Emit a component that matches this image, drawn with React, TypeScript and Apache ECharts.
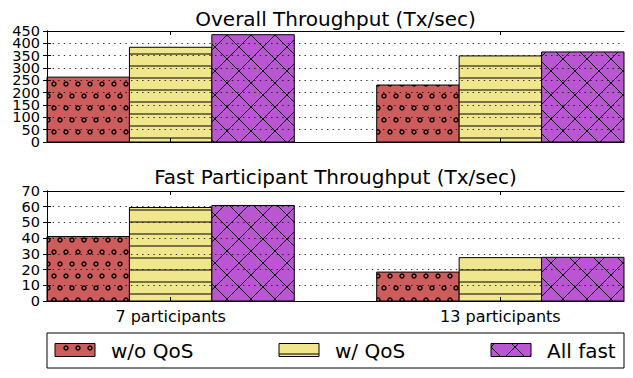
import React, { useEffect, useRef } from 'react';
import * as echarts from 'echarts';

// ---------- data ----------
const categories = ['7 participants', '13 participants'];
const seriesNames = ['w/o QoS', 'w/ QoS', 'All fast'];

const overallWithoutQos = [263, 231];
const overallWithQos = [384, 349];
const overallAllFast = [435, 365];

const fastWithoutQos = [41, 18.4];
const fastWithQos = [59.5, 27.6];
const fastAllFast = [60.8, 27.8];

const overallTicks = [0, 50, 100, 150, 200, 250, 300, 350, 400, 450];
const fastTicks = [0, 10, 20, 30, 40, 50, 60, 70];

const chartTitles = ['Overall Throughput (Tx/sec)', 'Fast Participant Throughput (Tx/sec)'];

// ---------- style ----------
const FONT = '"DejaVu Sans", "Liberation Sans", sans-serif';
const barColors = ['#cd5c5c', '#f0e68c', '#ba55d3'];
const hatchKinds = ['circles', 'hlines', 'cross'];
const HATCH = 12;

type Box = { x0: number; y0: number; x1: number; y1: number };

function mod(a: number, n: number) {
  return ((a % n) + n) % n;
}

function hatchElements(kind: string, b: Box, onlyFull: boolean): any[] {
  const els: any[] = [];
  const line = (x1: number, y1: number, x2: number, y2: number) => ({
    type: 'line',
    silent: true,
    shape: { x1, y1, x2, y2 },
    style: { stroke: '#000', lineWidth: 1, fill: null },
  });
  if (kind === 'circles') {
    const r = 2;
    for (let k = Math.floor((b.y0 - r) / HATCH); k * HATCH <= b.y1 + r; k++) {
      const cy = k * HATCH;
      const off = mod(k, 2) === 1 ? HATCH / 2 : 0;
      for (let m = Math.floor((b.x0 - r - off) / HATCH); m * HATCH + off <= b.x1 + r; m++) {
        const cx = m * HATCH + off;
        const full = cx - r >= b.x0 && cx + r <= b.x1 && cy - r >= b.y0 && cy + r <= b.y1;
        const part = cx + r > b.x0 && cx - r < b.x1 && cy + r > b.y0 && cy - r < b.y1;
        if (onlyFull ? full : part) {
          els.push({
            type: 'circle',
            silent: true,
            shape: { cx, cy, r },
            style: { fill: 'none', stroke: '#000', lineWidth: 1.4 },
          });
        }
      }
    }
  } else if (kind === 'hlines') {
    for (let k = Math.ceil((b.y0 - 6) / HATCH); k * HATCH + 6 < b.y1; k++) {
      const y = k * HATCH + 6;
      if (y > b.y0 + 0.6 && y < b.y1 - 0.6) els.push(line(b.x0, y, b.x1, y));
    }
  } else if (kind === 'cross') {
    const P = 2 * HATCH;
    // family A: x - y = c, c = P*m
    for (let c = Math.ceil((b.x0 - b.y1) / P) * P; c <= b.x1 - b.y0; c += P) {
      const ya = Math.max(b.y0, b.x0 - c);
      const yb = Math.min(b.y1, b.x1 - c);
      if (yb - ya > 0.3) els.push(line(ya + c, ya, yb + c, yb));
    }
    // family B: x + y = c, c = P*m + 22
    const shift = 22;
    for (let c = Math.ceil((b.x0 + b.y0 - shift) / P) * P + shift; c <= b.x1 + b.y1; c += P) {
      const ya = Math.max(b.y0, c - b.x1);
      const yb = Math.min(b.y1, c - b.x0);
      if (yb - ya > 0.3) els.push(line(c - ya, ya, c - yb, yb));
    }
  }
  return els;
}

const groupSlots = seriesNames.length + 1;
const xMax = categories.length * groupSlots - 1;
const tickPositions = categories.map((_, ci) => ci * groupSlots + seriesNames.length / 2);
const Y_PER_GRID = 3;

function buildBars(values: number[][], g: number) {
  return values.map((vals, si) => ({
    type: 'custom',
    name: seriesNames[si],
    xAxisIndex: g * 2,
    yAxisIndex: g * Y_PER_GRID,
    z: 2,
    clip: false,
    encode: { x: 0, y: 1 },
    data: vals.map((v, ci) => [ci * groupSlots + si, v]),
    renderItem: (_params: any, api: any) => {
      const start = api.value(0) as number;
      const v = api.value(1) as number;
      const tl = api.coord([start, v]);
      const br = api.coord([start + 1, 0]);
      const b: Box = { x0: tl[0], y0: tl[1], x1: br[0], y1: br[1] };
      const shape = { x: b.x0, y: b.y0, width: b.x1 - b.x0, height: b.y1 - b.y0 };
      return {
        type: 'group',
        children: [
          { type: 'rect', shape, style: { fill: barColors[si], stroke: 'none' } },
          {
            type: 'group',
            children: hatchElements(hatchKinds[si], b, false),
            clipPath: { type: 'rect', shape },
          },
          { type: 'rect', shape, style: { fill: 'none', stroke: '#000', lineWidth: 1 } },
        ],
      };
    },
  }));
}

function xAxisFor(g: number, position: string, showLabels: boolean) {
  return {
    type: 'value',
    gridIndex: g,
    position,
    min: 0,
    max: xMax,
    z: 5,
    axisLine: { show: true, onZero: false, lineStyle: { color: '#000', width: 1 } },
    axisTick: { show: true, inside: true, length: 4, customValues: tickPositions, lineStyle: { color: '#000', width: 1 } },
    axisLabel: {
      show: showLabels,
      customValues: tickPositions,
      formatter: (v: number) => categories[Math.round((v - tickPositions[0]) / groupSlots)] ?? '',
      fontSize: 16,
      fontFamily: FONT,
      color: '#000',
      margin: 7,
    },
    splitLine: { show: false },
  };
}

// role: 'main' (left, labels except 2nd/2nd-last, grid lines), 'right' (ticks only),
// 'extra' (left, only the 2nd and 2nd-last labels, so crowded labels are all kept)
function yAxisFor(g: number, role: string, ticks: number[]) {
  const n = ticks.length;
  const mainLabels = ticks.filter((_, i) => i !== 1 && i !== n - 2);
  const extraLabels = ticks.filter((_, i) => i === 1 || i === n - 2);
  const isMain = role === 'main';
  const isExtra = role === 'extra';
  return {
    type: 'value',
    gridIndex: g,
    position: role === 'right' ? 'right' : 'left',
    min: ticks[0],
    max: ticks[n - 1],
    interval: ticks[1] - ticks[0],
    z: 5,
    axisLine: { show: !isExtra, lineStyle: { color: '#000', width: 1 } },
    axisTick: { show: !isExtra, inside: true, length: 4, lineStyle: { color: '#000', width: 1 } },
    axisLabel: {
      show: isMain || isExtra,
      customValues: isMain ? mainLabels : extraLabels,
      fontSize: 14.5,
      fontFamily: FONT,
      color: '#000',
      margin: 7,
      showMinLabel: true,
      showMaxLabel: true,
      hideOverlap: false,
    },
    splitLine: { show: isMain, lineStyle: { color: '#000', width: 0.8, type: [1.4, 4.2] } },
  };
}

function legendGraphics(): any[] {
  const els: any[] = [];
  els.push({
    type: 'rect',
    shape: { x: 47, y: 333, width: 577, height: 35 },
    style: { fill: '#fff', stroke: '#000', lineWidth: 1 },
  });
  const swatchX = [55, 279, 491];
  seriesNames.forEach((name, si) => {
    const b: Box = { x0: swatchX[si], y0: 343.5, x1: swatchX[si] + 40, y1: 356.5 };
    const shape = { x: b.x0, y: b.y0, width: 40, height: 13 };
    els.push({ type: 'rect', shape, style: { fill: barColors[si], stroke: 'none' } });
    hatchElements(hatchKinds[si], b, true).forEach((e) => els.push(e));
    els.push({ type: 'rect', shape, style: { fill: 'none', stroke: '#000', lineWidth: 1 } });
    els.push({
      type: 'text',
      style: {
        text: name,
        x: b.x1 + 16,
        y: 350.5,
        font: `20px ${FONT}`,
        fill: '#000',
        textAlign: 'left',
        align: 'left',
        textVerticalAlign: 'middle',
        verticalAlign: 'middle',
      },
    });
  });
  return els;
}

function titleGraphics(): any[] {
  const ys = [18.8, 177];
  return chartTitles.map((t, i) => ({
    type: 'text',
    style: {
      text: t,
      x: 335.5,
      y: ys[i],
      font: `20px ${FONT}`,
      fill: '#000',
      textAlign: 'center',
      align: 'center',
      textVerticalAlign: 'middle',
      verticalAlign: 'middle',
    },
  }));
}

export default function App() {
  const ref = useRef<HTMLDivElement>(null);
  useEffect(() => {
    if (!ref.current) return;
    const chart = echarts.init(ref.current, null, { renderer: 'svg' });
    const option: any = {
      animation: false,
      backgroundColor: '#fff',
      grid: [
        { left: 47, right: 9, top: 31, height: 111, containLabel: false },
        { left: 47, right: 9, top: 191, height: 110, containLabel: false },
      ],
      xAxis: [
        xAxisFor(0, 'bottom', false),
        xAxisFor(0, 'top', false),
        xAxisFor(1, 'bottom', true),
        xAxisFor(1, 'top', false),
      ],
      yAxis: [
        yAxisFor(0, 'main', overallTicks),
        yAxisFor(0, 'right', overallTicks),
        yAxisFor(0, 'extra', overallTicks),
        yAxisFor(1, 'main', fastTicks),
        yAxisFor(1, 'right', fastTicks),
        yAxisFor(1, 'extra', fastTicks),
      ],
      series: [
        ...buildBars([overallWithoutQos, overallWithQos, overallAllFast], 0),
        ...buildBars([fastWithoutQos, fastWithQos, fastAllFast], 1),
      ],
      graphic: { elements: [...titleGraphics(), ...legendGraphics()] },
    };
    chart.setOption(option);
    return () => chart.dispose();
  }, []);
  return (
    <div
      ref={ref}
      style={{ position: 'fixed', left: 0, top: 0, width: 633, height: 378, background: '#fff' }}
    />
  );
}
